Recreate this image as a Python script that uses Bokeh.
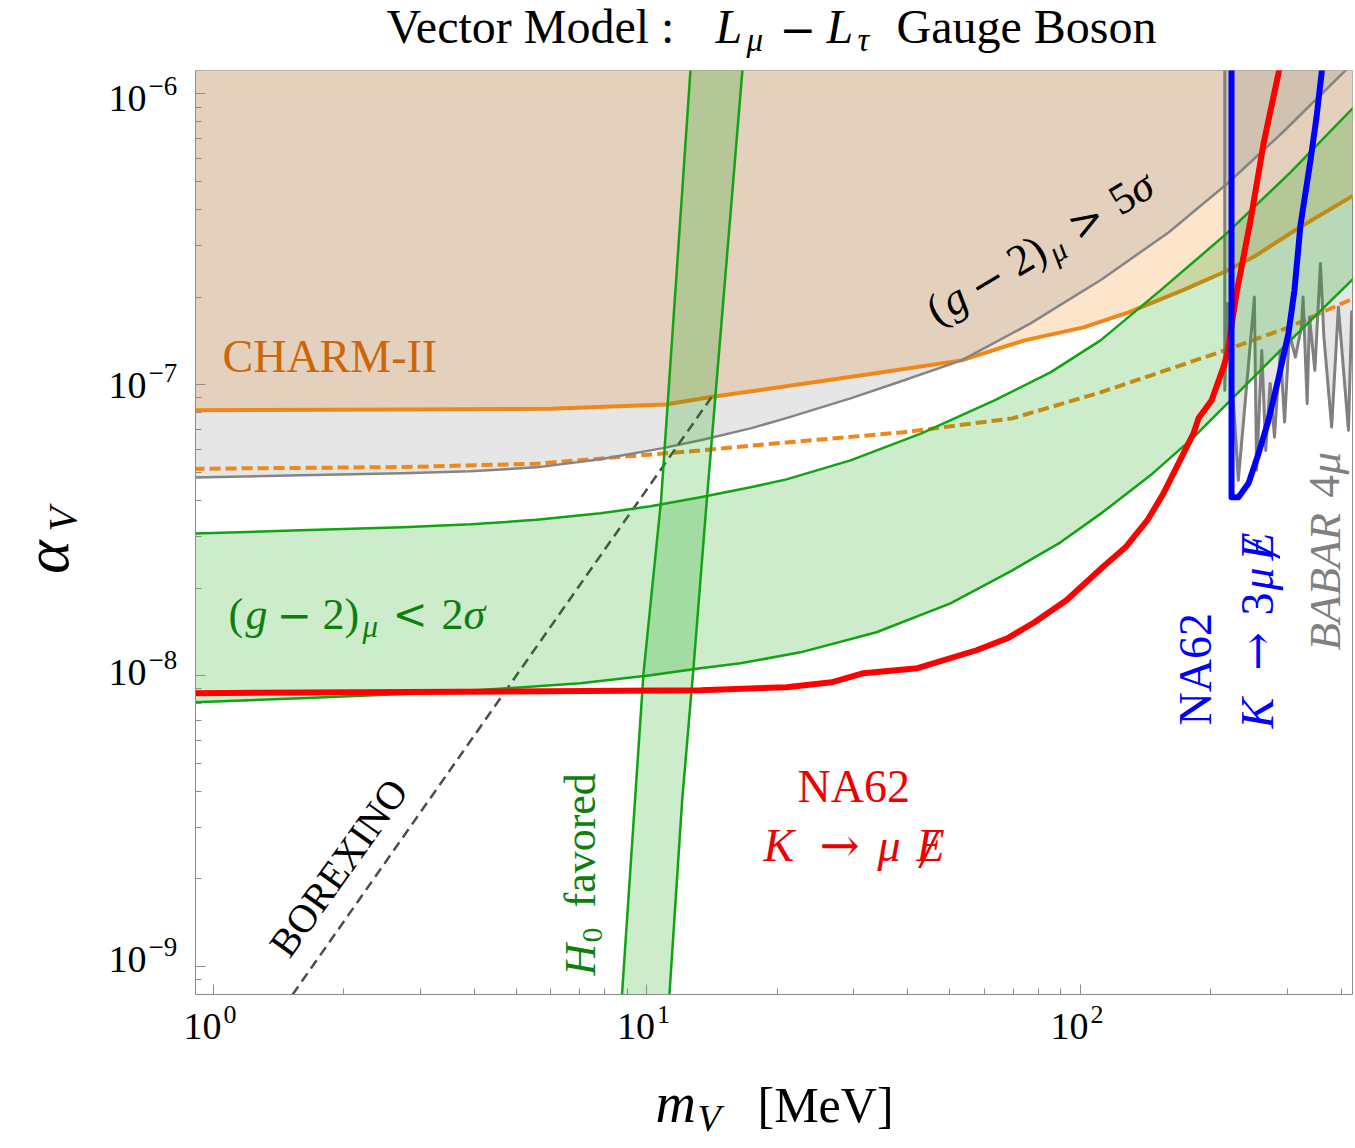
import math
from bokeh.plotting import figure
from bokeh.layouts import column, row
from bokeh.models import Range1d, Label, FixedTicker, CustomJSTickFormatter
from bokeh.embed import file_html
from bokeh.resources import INLINE

# ---------------- data (m_V in MeV, alpha_V) ----------------
charm_m = [0.9, 2.70, 5.99, 11.04, 13.92, 33.68, 53.18, 74.3, 101.7, 129.1, 172.0, 213.4, 252.1, 320.2, 426.6]
charm_a = [8.16e-8, 8.22e-8, 8.26e-8, 8.55e-8, 9.05e-8, 1.094e-7, 1.212e-7, 1.42e-7, 1.574e-7, 1.772e-7,
           2.11e-7, 2.43e-7, 2.76e-7, 3.47e-7, 4.47e-7]

charm_proj_m = [0.9, 2.731, 5.565, 13.29, 20.99, 39.07, 69.7, 111.3, 215.0, 302.0, 426.6]
charm_proj_a = [5.14e-8, 5.21e-8, 5.35e-8, 5.94e-8, 6.33e-8, 6.86e-8, 7.66e-8, 9.41e-8, 1.311e-7, 1.574e-7, 1.98e-7]

g2_5s_m = [0.9, 1.588, 2.731, 3.918, 5.565, 7.816, 10.81, 13.29, 17.34, 20.88, 29.49, 38.46, 53.18, 76.74,
           111.9, 159.7, 218.4, 291.0, 398.1, 411.1]
g2_5s_a = [4.80e-8, 4.879e-8, 4.957e-8, 5.036e-8, 5.197e-8, 5.539e-8, 6.04e-8, 6.437e-8, 7.076e-8, 7.66e-8,
           8.97e-8, 1.026e-7, 1.212e-7, 1.624e-7, 2.30e-7, 3.337e-7, 4.917e-7, 7.304e-7, 1.156e-6, 1.21e-6]

g2_hi_m = [0.9, 1.588, 2.731, 3.918, 5.565, 7.816, 10.19, 13.29, 17.34, 20.99, 29.49, 42.99, 63.37, 85.31,
           111.3, 153.0, 215.0, 305.2, 426.6]
g2_hi_a = [3.08e-8, 3.157e-8, 3.233e-8, 3.311e-8, 3.431e-8, 3.612e-8, 3.818e-8, 4.099e-8, 4.437e-8, 4.727e-8,
           5.495e-8, 6.80e-8, 8.83e-8, 1.102e-7, 1.42e-7, 2.11e-7, 3.26e-7, 5.365e-7, 8.97e-7]
g2_lo_m = [0.9, 1.588, 3.449, 7.03, 10.19, 13.29, 16.44, 22.61, 33.86, 50.15, 69.7, 89.99, 112.5, 145.1,
           182.4, 221.9, 305.2, 428.9]
g2_lo_a = [8.09e-9, 8.356e-9, 8.762e-9, 9.408e-9, 1.002e-8, 1.059e-8, 1.102e-8, 1.202e-8, 1.409e-8, 1.772e-8,
           2.301e-8, 2.871e-8, 3.640e-8, 4.879e-8, 6.59e-8, 8.83e-8, 1.42e-7, 2.336e-7]

h0_left_m = [8.76, 9.82, 10.78, 12.61]
h0_left_a = [8.0e-10, 1.018e-8, 4.0e-8, 1.22e-6]
h0_right_m = [11.27, 12.06, 12.81, 13.76, 16.62]
h0_right_a = [8.0e-10, 3.73e-9, 1.068e-8, 4.10e-8, 1.22e-6]

borexino_m = [1.522, 14.09]
borexino_a = [8.0e-10, 9.05e-8]

na62_mu_m = [0.9, 13.29, 20.99, 26.66, 31.60, 42.10, 57.58, 67.88, 78.38, 92.89, 112.5, 127.1, 142.8, 155.5,
             182.4, 187.3, 200.7, 213.8, 218.4, 229.1, 246.9, 264.6, 288.0]
na62_mu_a = [8.70e-9, 8.90e-9, 9.12e-9, 9.48e-9, 1.019e-8, 1.06e-8, 1.222e-8, 1.343e-8, 1.525e-8, 1.815e-8,
             2.356e-8, 2.76e-8, 3.42e-8, 4.23e-8, 6.80e-8, 7.66e-8, 8.83e-8, 1.147e-7, 1.281e-7, 2.06e-7,
             3.67e-7, 6.75e-7, 1.222e-6]

na62_3mu_m = [223.2, 223.2, 231.6, 244.3, 257.6, 271.6, 286.4, 302.0, 311.8, 321.9, 339.5, 350.5, 361.8]
na62_3mu_a = [1.25e-6, 4.10e-8, 4.10e-8, 4.58e-8, 5.80e-8, 7.54e-8, 1.051e-7, 1.50e-7, 2.11e-7, 3.53e-7,
              5.90e-7, 8.29e-7, 1.25e-6]

babar_m = [215.3, 215.3, 218.4, 231.4, 252.0, 255.0, 262.1, 267.7, 274.0, 280.4, 289.2, 295.9, 303.4, 313.3,
           323.6, 326.4, 333.6, 337.7, 347.5, 357.9, 364.6, 379.9, 393.7, 415.4, 422.7]
babar_a = [1.25e-6, 9.56e-8, 1.902e-7, 4.69e-8, 2.0e-7, 5.08e-8, 1.311e-7, 5.94e-8, 1.01e-7, 6.60e-8, 1.311e-7,
           7.44e-8, 1.50e-7, 1.244e-7, 1.577e-7, 2.0e-7, 8.60e-8, 1.707e-7, 1.12e-7, 2.61e-7, 1.457e-7,
           7.15e-8, 1.848e-7, 6.97e-8, 1.80e-7]

x_major = [1, 10, 100]
x_major_exp = ["0", "1", "2"]
y_major = [1e-9, 1e-8, 1e-7, 1e-6]
y_major_exp = ["\u22129", "\u22128", "\u22127", "\u22126"]

# ---------------- layout ----------------
XL, XR = 0.909, 424.4
YB, YT = 8.01e-10, 1.2025e-6
FL, FT, FW, FH = 195, 70, 1157, 924      # frame position/size on the page
PAGE_W, PAGE_H = 1355, 1148
TOP_H = 62                               # title strip height
LEFT_AX, TOP_B, BOT_AX, RIGHT_B = 10, FT - 62, 4, 3
FONT = "Liberation Serif"
OP_FONT = "DejaVu Serif"
K_BASE = 0.37                            # label anchor -> alphabetic baseline offset (em)
XBIG, XSMALL, YBIG = 1e4, 0.1, 1e-4


def px2x(px):
    return 10 ** (math.log10(XL) + (px - FL) / FW * math.log10(XR / XL))


def py2y(py):
    return 10 ** (math.log10(YT) - (py - FT) / FH * math.log10(YT / YB))


def x2px(x):
    return FL + (math.log10(x) - math.log10(XL)) / math.log10(XR / XL) * FW


def y2py(y):
    return FT + (math.log10(YT) - math.log10(y)) / math.log10(YT / YB) * FH


# ---------------- main plot ----------------
p = figure(frame_width=FW, frame_height=FH, x_axis_type="log", y_axis_type="log",
           x_range=Range1d(XL, XR), y_range=Range1d(YB, YT), title=None,
           output_backend="svg", toolbar_location=None,
           min_border_left=LEFT_AX, min_border_top=TOP_B, min_border_right=RIGHT_B, min_border_bottom=BOT_AX)
p.background_fill_color = "white"
p.border_fill_color = "white"
p.outline_line_color = "#8c8c8c"
p.outline_line_width = 1
p.xgrid.visible = False
p.ygrid.visible = False

p.xaxis.ticker = FixedTicker(ticks=x_major,
                             minor_ticks=[2, 3, 4, 5, 6, 7, 8, 9, 20, 30, 40, 50, 60, 70, 80, 90, 200, 300, 400])
p.yaxis.ticker = FixedTicker(ticks=y_major,
                             minor_ticks=[9e-10] + [k * 1e-9 for k in range(2, 10)] + [k * 1e-8 for k in range(2, 10)]
                             + [k * 1e-7 for k in range(2, 10)])
for ax in (p.xaxis[0], p.yaxis[0]):
    ax.axis_line_color = "#8c8c8c"
    ax.major_tick_line_color = "#8c8c8c"
    ax.minor_tick_line_color = "#8c8c8c"
    ax.major_tick_in = 10
    ax.major_tick_out = 0
    ax.minor_tick_in = 6
    ax.minor_tick_out = 0
    ax.formatter = CustomJSTickFormatter(code="return ''")
    ax.major_label_text_font_size = "1px"
    ax.major_label_standoff = 0

# fills
p.patch(charm_m + [XBIG, XBIG, XSMALL, XSMALL], charm_a + [charm_a[-1], YBIG, YBIG, charm_a[0]],
        fill_color="#fde5cc", line_color=None)
p.patch(g2_5s_m + [XBIG, XBIG, XSMALL, XSMALL], g2_5s_a + [g2_5s_a[-1], YBIG, YBIG, g2_5s_a[0]],
        fill_color="#808080", fill_alpha=0.2, line_color=None)
p.patch(babar_m + [XBIG, XBIG, babar_m[0]], babar_a + [babar_a[-1], YBIG, YBIG],
        fill_color="#808080", fill_alpha=0.2, line_color=None)

# lines under the green bands
p.line(charm_m, charm_a, line_color="#f0871a", line_width=4, line_join="round")
p.line(charm_proj_m, charm_proj_a, line_color="#f0871a", line_width=4, line_dash="11 5")
p.line(g2_5s_m, g2_5s_a, line_color="#858585", line_width=2.5, line_join="round")
p.line(babar_m, babar_a, line_color="#808080", line_width=3, line_join="round")
p.line(borexino_m, borexino_a, line_color="#4d4d4d", line_width=2.5, line_dash="10 6")

# green bands
p.patch(g2_hi_m + g2_lo_m[::-1], g2_hi_a + g2_lo_a[::-1], fill_color="#00a000", fill_alpha=0.2, line_color=None)
p.patch(h0_left_m + h0_right_m[::-1], h0_left_a + h0_right_a[::-1], fill_color="#00a000", fill_alpha=0.2,
        line_color=None)
for xs, ys in ((g2_hi_m, g2_hi_a), (g2_lo_m, g2_lo_a), (h0_left_m, h0_left_a), (h0_right_m, h0_right_a)):
    p.line(xs, ys, line_color="#12a312", line_width=2.5, line_join="round")

# NA62 limits
p.line(na62_mu_m, na62_mu_a, line_color="#ff0000", line_width=6, line_join="round")
p.line(na62_3mu_m, na62_3mu_a, line_color="#0000ff", line_width=6, line_join="round")


# ---------------- margin strips (page-pixel coordinates) ----------------
def strip(w, h, x0, y0):
    f = figure(width=w, height=h, x_range=Range1d(x0, x0 + w), y_range=Range1d(y0 + h, y0), title=None,
               output_backend="svg", toolbar_location=None, x_axis_location=None, y_axis_location=None,
               min_border_left=0, min_border_right=0, min_border_top=0, min_border_bottom=0)
    f.outline_line_color = None
    f.background_fill_color = "white"
    f.border_fill_color = "white"
    f.xgrid.visible = False
    f.ygrid.visible = False
    return f


ROW_H = TOP_B + FH + BOT_AX
top = strip(PAGE_W, TOP_H, 0, 0)
left = strip(FL - LEFT_AX, ROW_H, 0, TOP_H)
bottom = strip(PAGE_W, PAGE_H - TOP_H - ROW_H, 0, TOP_H + ROW_H)


def page_conv(sx, sy):
    return sx, sy


def main_conv(sx, sy):
    return px2x(sx), py2y(sy)


def place(fig, conv, px, py, pieces, angle=0.0, color="black", align="left"):
    a = math.radians(angle)
    ux, uy = math.cos(a), -math.sin(a)
    dx, dy = math.sin(a), math.cos(a)
    for piece in pieces:
        text, s, size, style, drop = piece[:5]
        font = piece[5] if len(piece) > 5 else FONT
        d = drop - K_BASE * size
        sx = px + s * ux + d * dx
        sy = py + s * uy + d * dy
        x, y = conv(sx, sy)
        fig.add_layout(Label(x=x, y=y, x_units="data", y_units="data", text=text,
                             text_font=font, text_font_size=f"{size}px", text_font_style=style,
                             text_color=color, angle=angle, angle_units="deg",
                             text_baseline="alphabetic", text_align=align))


N, I = "normal", "italic"

# title
place(top, page_conv, 386, 44, [("Vector Model :", 0, 48, N, 0), ("L", 329, 48, I, 0), ("\u03bc", 360, 33, I, 8),
                                ("\u2212", 393, 44, N, 0, OP_FONT), ("L", 440, 48, I, 0),
                                ("\u03c4", 471, 33, I, 8), ("Gauge Boson", 510, 48, N, 0)])

# axis titles
place(bottom, page_conv, 655, 1123, [("m", 0, 56, I, 0), ("V", 42, 38, I, 9), ("[MeV]", 102, 50, N, 0)])
place(left, page_conv, 70, 572, [("\u03b1", 0, 64, I, 0), ("V", 43, 40, I, 7)], angle=90)

# tick labels
for t, e in zip(x_major, x_major_exp):
    tx = x2px(t)
    place(bottom, page_conv, tx + 8, 1040, [("10", 0, 38, N, 0)], align="right")
    place(bottom, page_conv, tx + 10, 1024, [(e, 0, 26, N, 0)])
for t, e in zip(y_major, y_major_exp):
    ty = y2py(t)
    place(left, page_conv, 146, ty + 11, [("10", 0, 38, N, 0)], align="right")
    place(left, page_conv, 148, ty - 6, [(e, 0, 27, N, 0)])

# region labels inside the frame
place(p, main_conv, 222, 373, [("CHARM-II", 0, 46, N, 0)], color="#cc6608")
place(p, main_conv, 938, 327, [("(", 0, 44, N, 0), ("g", 17, 44, I, 0), ("\u2212", 48, 42, N, 0, OP_FONT),
                               ("2)", 94, 44, N, 0), ("\u03bc", 134, 31, I, 7), (">", 164, 42, N, 0, OP_FONT),
                               ("5", 213, 44, N, 0), ("\u03c3", 235, 44, I, 0)], angle=31)
place(p, main_conv, 228, 630, [("(", 0, 44, N, 0), ("g", 17, 44, I, 0), ("\u2212", 48, 42, N, 0, OP_FONT),
                               ("2)", 94, 44, N, 0), ("\u03bc", 134, 31, I, 7), ("<", 164, 42, N, 0, OP_FONT),
                               ("2", 213, 44, N, 0), ("\u03c3", 235, 44, I, 0)], color="#0d7f0d")
place(p, main_conv, 290, 960, [("BOREXINO", 0, 40, N, 0)], angle=54.5)
place(p, main_conv, 596, 975, [("H", 0, 44, I, 0), ("0", 33, 30, N, 7), ("favored", 68, 44, N, 0)], angle=90,
      color="#0d7f0d")
place(p, main_conv, 797, 803, [("NA62", 0, 46, N, 0)], color="#ee0000")
place(p, main_conv, 763, 862, [("K", 0, 46, I, 0), ("\u2192", 56, 48, N, 0, OP_FONT), ("\u03bc", 114, 46, I, 0),
                               ("E", 153, 46, I, 0), ("/", 157, 54, I, 6)], color="#ee0000")
place(p, main_conv, 1212, 725, [("NA62", 0, 46, N, 0)], angle=90, color="#0000ff")
place(p, main_conv, 1274, 728, [("K", 0, 46, I, 0), ("\u2192", 58, 46, N, 0, OP_FONT), ("3", 113, 46, N, 0),
                                ("\u03bc", 138, 46, I, 0), ("E", 168, 46, I, 0), ("/", 172, 54, I, 6)],
      angle=90, color="#0000ff")
place(p, main_conv, 1341, 650, [("BABAR", 0, 45, I, 0), ("4", 153, 45, N, 0), ("\u03bc", 176, 45, I, 0)],
      angle=90, color="#808080")

layout = column(top, row(left, p, spacing=0), bottom, spacing=0)
open("out.html", "w").write(file_html(layout, INLINE))
